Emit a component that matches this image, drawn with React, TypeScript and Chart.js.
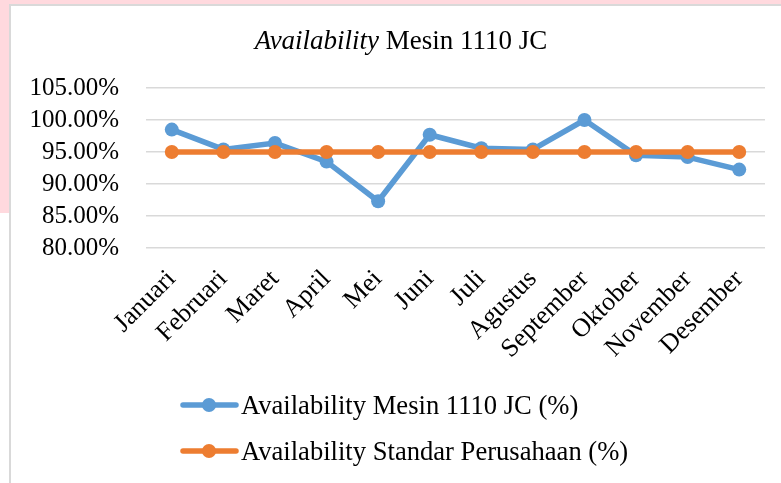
import React, { useEffect, useRef } from "react";
import { Chart, registerables } from "chart.js";

Chart.register(...registerables);

const months = ["Januari", "Februari", "Maret", "April", "Mei", "Juni", "Juli", "Agustus", "September", "Oktober", "November", "Desember"];
const mesinValues = [98.5, 95.4, 96.4, 93.5, 87.3, 97.7, 95.6, 95.4, 100.0, 94.5, 94.2, 92.25];
const standarValues = [95, 95, 95, 95, 95, 95, 95, 95, 95, 95, 95, 95];
const seriesLabels = ["Availability Mesin 1110 JC (%)", "Availability Standar Perusahaan (%)"];
const seriesColors = ["#5B9BD5", "#ED7D31"];
const titleItalic = "Availability";
const titleRest = " Mesin 1110 JC";
const FONT = "'Liberation Serif', 'Times New Roman', serif";

const titlePlugin = {
  id: "mixedTitle",
  afterDraw(chart: any) {
    const ctx = chart.ctx;
    ctx.save();
    ctx.fillStyle = "#000";
    ctx.textBaseline = "alphabetic";
    ctx.font = `italic 27px ${FONT}`;
    const w1 = ctx.measureText(titleItalic).width;
    ctx.font = `27px ${FONT}`;
    const w2 = ctx.measureText(titleRest).width;
    const cx = 401;
    const x = cx - (w1 + w2) / 2;
    ctx.textAlign = "left";
    ctx.font = `italic 27px ${FONT}`;
    ctx.fillText(titleItalic, x, 49);
    ctx.font = `27px ${FONT}`;
    ctx.fillText(titleRest, x + w1, 49);
    ctx.restore();
  },
};

const legendPlugin = {
  id: "stackLegend",
  afterDraw(chart: any) {
    const ctx = chart.ctx;
    ctx.save();
    chart.data.datasets.forEach((ds: any, i: number) => {
      const y = 405 + i * 46;
      ctx.strokeStyle = ds.borderColor;
      ctx.lineWidth = 5.5;
      ctx.lineCap = "round";
      ctx.beginPath();
      ctx.moveTo(183, y);
      ctx.lineTo(236, y);
      ctx.stroke();
      ctx.fillStyle = ds.borderColor;
      ctx.beginPath();
      ctx.arc(209, y, 7, 0, Math.PI * 2);
      ctx.fill();
      ctx.fillStyle = "#000";
      ctx.font = `26.6px ${FONT}`;
      ctx.textAlign = "left";
      ctx.textBaseline = "alphabetic";
      ctx.fillText(ds.label, 241, y + 9);
    });
    ctx.restore();
  },
};

export default function App() {
  const ref = useRef<HTMLCanvasElement | null>(null);
  useEffect(() => {
    if (!ref.current) return;
    const chart = new Chart(ref.current, {
      type: "line",
      data: {
        labels: months,
        datasets: [
          {
            label: seriesLabels[0],
            data: mesinValues,
            borderColor: seriesColors[0],
            backgroundColor: seriesColors[0],
            borderWidth: 5.5,
            pointRadius: 7,
            pointBorderWidth: 0,
            pointBackgroundColor: seriesColors[0],
            tension: 0,
            order: 1,
          },
          {
            label: seriesLabels[1],
            data: standarValues,
            borderColor: seriesColors[1],
            backgroundColor: seriesColors[1],
            borderWidth: 5.5,
            pointRadius: 7,
            pointBorderWidth: 0,
            pointBackgroundColor: seriesColors[1],
            tension: 0,
            order: 0,
          },
        ],
      },
      options: {
        animation: false,
        responsive: false,
        maintainAspectRatio: false,
        layout: { padding: { left: 10, top: 88, right: 16, bottom: 110 } },
        plugins: {
          legend: { display: false },
          title: { display: false },
          tooltip: { enabled: false },
        },
        scales: {
          x: {
            offset: true,
            grid: { display: false, drawTicks: false },
            border: { display: false },
            ticks: {
              minRotation: 45,
              maxRotation: 45,
              autoSkip: false,
              padding: 16,
              color: "#000",
              font: { family: FONT, size: 26 },
            },
            afterFit: (s: any) => {
              s.height = 125;
              s.paddingLeft = 0;
              s.paddingRight = 0;
            },
          },
          y: {
            min: 80,
            max: 105,
            ticks: {
              stepSize: 5,
              autoSkip: false,
              padding: 27,
              color: "#000",
              font: { family: FONT, size: 25 },
              callback: (v: any) => Number(v).toFixed(2) + "%",
            },
            grid: { color: "#D9D9D9", lineWidth: 1.5, drawTicks: false },
            border: { display: false },
            afterFit: (s: any) => {
              s.width = 136;
            },
          },
        },
      },
      plugins: [titlePlugin, legendPlugin],
    });
    return () => chart.destroy();
  }, []);

  return (
    <div style={{ position: "absolute", left: 0, top: 0, width: 781, height: 483, overflow: "hidden", background: "#fff" }}>
      <div style={{ position: "absolute", left: 0, top: 0, width: 781, height: 213, background: "#FFD9DE" }} />
      <div
        style={{
          position: "absolute",
          left: 9,
          top: 4,
          width: 800,
          height: 500,
          background: "#fff",
          borderLeft: "2px solid #D9D9D9",
          borderTop: "2px solid #D9D9D9",
        }}
      />
      <canvas ref={ref} width={781} height={483} style={{ position: "absolute", left: 0, top: 0, width: 781, height: 483 }} />
    </div>
  );
}
